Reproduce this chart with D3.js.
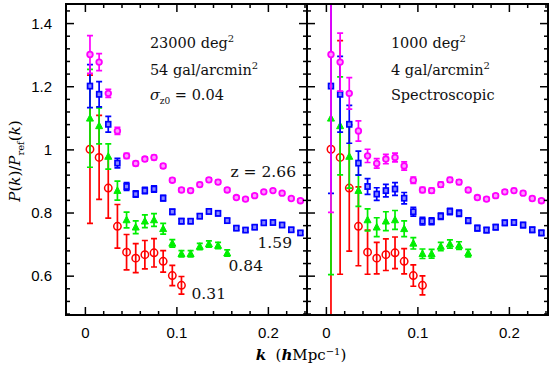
<!DOCTYPE html>
<html>
<head>
<meta charset="utf-8">
<script src="https://cdn.jsdelivr.net/npm/d3@7"></script>
<style>
  body { margin: 0; background: #fff; }
  svg { display: block; }
</style>
</head>
<body>
<div class="container"></div>
<script>
// data
const kBins = [0.005, 0.015, 0.025, 0.035, 0.045, 0.055, 0.065, 0.075, 0.085, 0.095, 0.105, 0.115,
  0.125, 0.135, 0.145, 0.155, 0.165, 0.175, 0.185, 0.195, 0.205, 0.215, 0.225, 0.235];

// z = 2.66
const magentaVal = [1.302, 1.278, 1.179, 1.060, 0.981, 0.957, 0.971, 0.976, 0.949, 0.904, 0.873, 0.871,
  0.890, 0.905, 0.898, 0.873, 0.849, 0.844, 0.855, 0.867, 0.871, 0.863, 0.846, 0.839];
const magentaErrWide = [0.060, 0.027, 0.013, 0.011, 0.008, 0.007, 0.007, 0.007, 0.007, 0.006, 0.006, 0.006,
  0.006, 0.006, 0.006, 0.006, 0.005, 0.005, 0.005, 0.005, 0.005, 0.005, 0.005, 0.005];
const magentaErrSpec = [0.500, 0.092, 0.050, 0.032, 0.021, 0.015, 0.015, 0.014, 0.013, 0.010, 0.008, 0.008,
  0.008, 0.007, 0.007, 0.007, 0.006, 0.006, 0.006, 0.006, 0.006, 0.006, 0.006, 0.006];

// z = 1.59
const blueVal = [1.202, 1.176, 1.081, 0.958, 0.884, 0.860, 0.871, 0.876, 0.847, 0.804, 0.774, 0.774,
  0.790, 0.805, 0.799, 0.776, 0.752, 0.746, 0.755, 0.769, 0.770, 0.762, 0.747, 0.737];
const blueErrWide = [0.068, 0.040, 0.025, 0.015, 0.012, 0.010, 0.010, 0.010, 0.009, 0.008, 0.008, 0.007,
  0.007, 0.007, 0.007, 0.006, 0.006, 0.006, 0.006, 0.006, 0.006, 0.006, 0.006, 0.006];
const blueErrSpec = [0.340, 0.120, 0.060, 0.038, 0.025, 0.020, 0.020, 0.020, 0.018, 0.014, 0.012, 0.011,
  0.010, 0.010, 0.010, 0.009, 0.009, 0.008, 0.008, 0.008, 0.008, 0.008, 0.008, 0.008];

// z = 0.84
const greenVal = [1.100, 1.076, 0.979, 0.871, 0.778, 0.755, 0.774, 0.778, 0.750, 0.704, 0.671, 0.671,
  0.694, 0.702, 0.697, 0.673];
const greenErrWide = [0.155, 0.057, 0.040, 0.030, 0.025, 0.020, 0.020, 0.020, 0.017, 0.012, 0.010, 0.010,
  0.010, 0.010, 0.010, 0.010];
const greenErrSpec = [0.495, 0.155, 0.100, 0.050, 0.035, 0.030, 0.030, 0.030, 0.025, 0.018, 0.015, 0.014,
  0.013, 0.013, 0.012, 0.012];

// z = 0.31
const redVal = [1.002, 0.976, 0.879, 0.758, 0.676, 0.657, 0.668, 0.674, 0.647, 0.602, 0.571];
const redErrWide = [0.235, 0.133, 0.095, 0.069, 0.056, 0.046, 0.045, 0.045, 0.034, 0.032, 0.028];
const redErrSpec = [0.600, 0.370, 0.200, 0.125, 0.070, 0.050, 0.050, 0.050, 0.040, 0.034, 0.030];

const xTicks = [0, 0.1, 0.2];
const yTicks = [0.6, 0.8, 1, 1.2, 1.4];
const yTickLabels = ['0.6', '0.8', '1', '1.2', '1.4'];
const zLabels = ['z = 2.66', '1.59', '0.84', '0.31'];
const panelTextWide = ['23000 deg', '54 gal/arcmin', 'σ'];
const panelTextSpec = ['1000 deg', '4 gal/arcmin', 'Spectroscopic'];

// config
const W = 550, H = 366;
const plotTop = 4, plotBottom = 315;
const panels = [
  { x0: 66, x1: 307, errs: [redErrWide, greenErrWide, blueErrWide, magentaErrWide], lines: panelTextWide },
  { x0: 307, x1: 548, errs: [redErrSpec, greenErrSpec, blueErrSpec, magentaErrSpec], lines: panelTextSpec },
];
const series = [
  { vals: redVal, color: '#ff0000', shape: 'ocircle' },
  { vals: greenVal, color: '#00ee00', shape: 'triangle' },
  { vals: blueVal, color: '#0000ff', shape: 'square' },
  { vals: magentaVal, color: '#ff00ff', shape: 'circle' },
];
const serif = '"DejaVu Serif", serif';
const sans = '"Liberation Sans", Arial, sans-serif';

const svg = d3.select('.container').append('svg')
  .attr('width', W).attr('height', H);

const y = d3.scaleLinear().domain([0.477, 1.462]).range([plotBottom, plotTop]);

panels.forEach((p, pi) => {
  const x = d3.scaleLinear().domain([-0.0212, 0.2422]).range([p.x0, p.x1]);
  const clipId = 'clip' + pi;
  svg.append('clipPath').attr('id', clipId)
    .append('rect').attr('x', p.x0).attr('y', plotTop).attr('width', p.x1 - p.x0).attr('height', plotBottom - plotTop);

  const g = svg.append('g').attr('clip-path', `url(#${clipId})`);

  series.forEach((s, si) => {
    const errs = p.errs[si];
    const pts = s.vals.map((v, i) => ({ k: kBins[i], v: v, e: errs[i] }));
    const sg = g.append('g');
    // error bars
    sg.selectAll('.bar').data(pts).enter().append('path')
      .attr('d', d => {
        const cx = x(d.k), y0 = y(d.v - d.e), y1 = y(d.v + d.e);
        return `M${cx},${y0}V${y1}M${cx - 3},${y0}H${cx + 3}M${cx - 3},${y1}H${cx + 3}`;
      })
      .attr('fill', 'none')
      .attr('stroke', s.color)
      .attr('stroke-width', 1.7);
    // markers
    if (s.shape === 'ocircle') {
      sg.selectAll('.m').data(pts).enter().append('circle')
        .attr('cx', d => x(d.k)).attr('cy', d => y(d.v)).attr('r', 3.7)
        .attr('fill', 'none').attr('stroke', s.color).attr('stroke-width', 1.5);
    } else if (s.shape === 'circle') {
      sg.selectAll('.m').data(pts).enter().append('circle')
        .attr('cx', d => x(d.k)).attr('cy', d => y(d.v)).attr('r', 2.8)
        .attr('fill', '#ff99ff').attr('stroke', s.color).attr('stroke-width', 1.8);
    } else if (s.shape === 'square') {
      sg.selectAll('.m').data(pts).enter().append('rect')
        .attr('x', d => x(d.k) - 2.4).attr('y', d => y(d.v) - 2.6)
        .attr('width', 4.8).attr('height', 5.2)
        .attr('fill', '#8888ff').attr('stroke', s.color).attr('stroke-width', 1.7);
    } else {
      sg.selectAll('.m').data(pts).enter().append('path')
        .attr('d', d => {
          const cx = x(d.k), cy = y(d.v);
          return `M${cx},${cy - 3.8}L${cx + 3.5},${cy + 2.8}L${cx - 3.5},${cy + 2.8}Z`;
        })
        .attr('fill', s.color).attr('stroke', s.color).attr('stroke-width', 1);
    }
  });

  // ticks: bottom and top
  const xMinor = d3.range(0, 0.2401, 0.02);
  const tickG = svg.append('g').attr('stroke', '#000').attr('stroke-width', 1.5);
  xMinor.forEach(t => {
    const major = xTicks.some(m => Math.abs(m - t) < 1e-6);
    const len = major ? 8 : 4;
    tickG.append('line').attr('x1', x(t)).attr('x2', x(t)).attr('y1', plotBottom).attr('y2', plotBottom - len);
    tickG.append('line').attr('x1', x(t)).attr('x2', x(t)).attr('y1', plotTop).attr('y2', plotTop + len);
  });
  // ticks: left and right
  const yMinor = d3.range(0.48, 1.4601, 0.04);
  yMinor.forEach(t => {
    const major = yTicks.some(m => Math.abs(m - t) < 1e-6);
    const len = major ? 8 : 4;
    tickG.append('line').attr('x1', p.x0).attr('x2', p.x0 + len).attr('y1', y(t)).attr('y2', y(t));
    tickG.append('line').attr('x1', p.x1).attr('x2', p.x1 - len).attr('y1', y(t)).attr('y2', y(t));
  });

  // x tick labels
  svg.append('g').selectAll('text').data(xTicks).enter().append('text')
    .attr('x', d => x(d)).attr('y', 338)
    .attr('text-anchor', 'middle')
    .style('font-family', sans).style('font-size', '15px')
    .text(d => d === 0 ? '0' : d.toFixed(1));

  // panel text
  const tx = x(0.0705);
  const tg = svg.append('g').style('font-family', serif).style('font-size', '14.5px').attr('fill', '#111');
  const l1 = tg.append('text').attr('x', tx).attr('y', 48).text(p.lines[0]);
  l1.append('tspan').attr('dy', -6).style('font-size', '10px').text('2');
  const l2 = tg.append('text').attr('x', tx).attr('y', 75).text(p.lines[1]);
  l2.append('tspan').attr('dy', -6).style('font-size', '10px').text('2');
  if (pi === 0) {
    const l3 = tg.append('text').attr('x', tx).attr('y', 100);
    l3.append('tspan').style('font-style', 'italic').text('σ');
    l3.append('tspan').attr('dy', 4).style('font-size', '9px').text('z0');
    l3.append('tspan').attr('dy', -4).text(' = 0.04');
  } else {
    tg.append('text').attr('x', tx).attr('y', 100).text(p.lines[2]);
  }

  if (pi === 0) {
    const zg = svg.append('g').style('font-family', serif).style('font-size', '15.5px').attr('fill', '#111');
    const zPos = [[296, 177], [292, 248], [263, 271], [226, 299]];
    zLabels.forEach((t, i) => {
      zg.append('text').attr('x', zPos[i][0]).attr('y', zPos[i][1]).attr('text-anchor', 'end').text(t);
    });
  }

  // frame
  svg.append('rect').attr('x', p.x0).attr('y', plotTop).attr('width', p.x1 - p.x0).attr('height', plotBottom - plotTop)
    .attr('fill', 'none').attr('stroke', '#000').attr('stroke-width', 2);
});

// y tick labels
svg.append('g').selectAll('text').data(yTicks).enter().append('text')
  .attr('x', 52).attr('y', d => y(d) + 5)
  .attr('text-anchor', 'end')
  .style('font-family', sans).style('font-size', '15px')
  .text((d, i) => yTickLabels[i]);

// y axis label
const yl = svg.append('text')
  .attr('transform', 'translate(20,161) rotate(-90)')
  .attr('text-anchor', 'middle')
  .style('font-family', serif).style('font-size', '15px');
yl.append('tspan').style('font-style', 'italic').text('P');
yl.append('tspan').text('(');
yl.append('tspan').style('font-style', 'italic').text('k');
yl.append('tspan').text(')/');
yl.append('tspan').style('font-style', 'italic').text('P');
yl.append('tspan').attr('dy', 4).style('font-size', '10px').text('ref');
yl.append('tspan').attr('dy', -4).text('(');
yl.append('tspan').style('font-style', 'italic').text('k');
yl.append('tspan').text(')');

// x axis label
const xl = svg.append('text')
  .attr('x', 301).attr('y', 360)
  .attr('text-anchor', 'middle')
  .style('font-family', serif).style('font-size', '15px');
xl.append('tspan').style('font-style', 'italic').style('font-weight', 'bold').text('k');
xl.append('tspan').text('\u00a0\u00a0(');
xl.append('tspan').style('font-style', 'italic').style('font-weight', 'bold').text('h');
xl.append('tspan').text('Mpc');
xl.append('tspan').attr('dy', -5).style('font-size', '10px').text('−1');
xl.append('tspan').attr('dy', 5).text(')');
</script>
</body>
</html>
